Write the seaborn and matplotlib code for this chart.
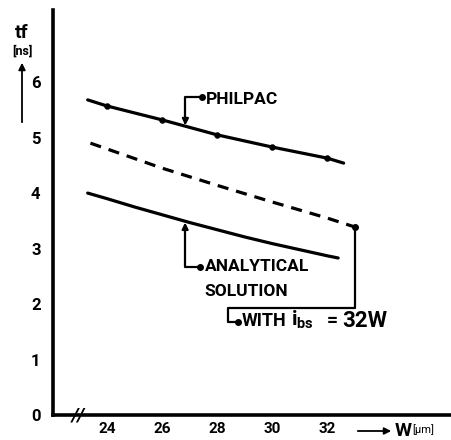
import matplotlib
matplotlib.use("Agg")
import matplotlib.pyplot as plt
import seaborn as sns
import pandas as pd

# ---- data ----
w_philpac = [23.3, 24, 26, 28, 30, 32, 32.6]
tf_philpac = [5.68, 5.57, 5.32, 5.05, 4.83, 4.63, 4.54]
w_marked = [24, 26, 28, 30, 32]
tf_marked = [5.57, 5.32, 5.05, 4.83, 4.63]

w_ibs = [23.4, 26, 28, 30, 32, 33.0]
tf_ibs = [4.90, 4.45, 4.14, 3.84, 3.55, 3.39]

w_analytic = [23.3, 24, 25, 26, 27, 28, 29, 30, 31, 32, 32.4]
tf_analytic = [4.00, 3.90, 3.75, 3.61, 3.47, 3.34, 3.21, 3.09, 2.98, 2.87, 2.83]

x_ticks = [24, 26, 28, 30, 32]
y_ticks = [0, 1, 2, 3, 4, 5, 6]

sns.set_style("white")
plt.rcParams['font.family'] = ['Roboto', 'DejaVu Sans']
plt.rcParams['font.weight'] = 'bold'
plt.rcParams['text.color'] = 'black'
plt.rcParams['xtick.color'] = 'black'
plt.rcParams['ytick.color'] = 'black'
plt.rcParams['mathtext.fontset'] = 'custom'
plt.rcParams['mathtext.it'] = 'Roboto:bold'
plt.rcParams['mathtext.rm'] = 'Roboto:bold'

fig = plt.figure(figsize=(4.51, 4.40), dpi=100)
ax = fig.add_axes([53/451, 25/440, 398/451, 405/440])

df_p = pd.DataFrame({"W": w_philpac, "tf": tf_philpac})
df_m = pd.DataFrame({"W": w_marked, "tf": tf_marked})
df_i = pd.DataFrame({"W": w_ibs, "tf": tf_ibs})
df_a = pd.DataFrame({"W": w_analytic, "tf": tf_analytic})

sns.lineplot(data=df_p, x="W", y="tf", ax=ax, color="black", lw=2.3, sort=True)
sns.scatterplot(data=df_m, x="W", y="tf", ax=ax, color="black", s=18, marker="o", edgecolor="black")
sns.lineplot(data=df_i, x="W", y="tf", ax=ax, color="black", lw=2.3, linestyle=(0, (3.5, 2.5)))
sns.lineplot(data=df_a, x="W", y="tf", ax=ax, color="black", lw=2.3)

ax.set_xlim(22.04, 36.5)
ax.set_ylim(0, 7.3)
ax.set_xticks(x_ticks)
ax.set_yticks(y_ticks)
ax.set_xticklabels([str(t) for t in x_ticks], fontsize=11, fontweight='bold')
ax.set_yticklabels([str(t) for t in y_ticks], fontsize=12, fontweight='bold')
ax.tick_params(axis='both', direction='inout', length=6, width=1.5, colors='black')
ax.tick_params(axis='x', pad=2)
ax.tick_params(axis='y', pad=6)
ax.set_xlabel("")
ax.set_ylabel("")
for s in ['top', 'right']:
    ax.spines[s].set_visible(False)
for s in ['left', 'bottom']:
    ax.spines[s].set_linewidth(2.6)
    ax.spines[s].set_color('black')

# axis break mark
ax.text(22.95, 0.0, "//", fontsize=13, fontstyle='italic', ha='center', va='center',
        family='DejaVu Sans', clip_on=False)

lead = dict(color='black', lw=1.6)
# PHILPAC label
ax.annotate("", xy=(26.85, 5.22), xytext=(27.45, 5.73),
            arrowprops=dict(arrowstyle='-|>', color='black', lw=1.6, shrinkA=0, shrinkB=0,
                            mutation_scale=9,
                            connectionstyle='angle,angleA=0,angleB=90,rad=0'))
ax.plot([27.45], [5.73], 'o', color='black', ms=4)
ax.text(27.6, 5.68, "PHILPAC", fontsize=12.5, va='center', ha='left')

# Analytical solution label
ax.annotate("", xy=(26.84, 3.47), xytext=(27.38, 2.67),
            arrowprops=dict(arrowstyle='-|>', color='black', lw=1.6, shrinkA=0, shrinkB=0,
                            mutation_scale=9,
                            connectionstyle='angle,angleA=0,angleB=90,rad=0'))
ax.plot([27.38], [2.67], 'o', color='black', ms=4)
ax.text(27.55, 2.67, "ANALYTICAL", fontsize=12.5, va='center', ha='left')
ax.text(27.55, 2.22, "SOLUTION", fontsize=12.5, va='center', ha='left')

# dashed-curve label
lead_x = [33.0, 33.0, 28.4, 28.4, 28.75]
lead_y = [3.39, 1.93, 1.93, 1.68, 1.68]
ax.plot(lead_x, lead_y, **lead)
ax.plot([33.0, 28.75], [3.39, 1.68], 'o', color='black', ms=4)
ax.text(28.9, 1.70, "WITH", fontsize=13, va='center', ha='left')
ax.text(30.7, 1.72, r"$i_{bs}$", fontsize=15, va='center', ha='left')
ax.text(32.0, 1.70, "=", fontsize=14, va='center', ha='left')
ax.text(32.55, 1.70, "32W", fontsize=16, va='center', ha='left')

# y label with arrow
fig.text(22/451, 1 - 33/440, "tf", fontsize=14, ha='center', va='center', fontweight='bold')
fig.text(22/451, 1 - 51/440, "[ns]", fontsize=9, ha='center', va='center', fontweight='bold')
fig.patches.append(matplotlib.patches.FancyArrowPatch(
    (22/451, 1 - 125/440), (22/451, 1 - 60/440), transform=fig.transFigure,
    arrowstyle='-|>', mutation_scale=10, color='black', lw=1.3))

# x label with arrow
fig.patches.append(matplotlib.patches.FancyArrowPatch(
    (355/451, 1 - 431/440), (394/451, 1 - 431/440), transform=fig.transFigure,
    arrowstyle='-|>', mutation_scale=10, color='black', lw=1.3))
fig.text(395/451, 1 - 431/440, "W", fontsize=14, ha='left', va='center', fontweight='bold')
fig.text(412/451, 1 - 430/440, "[μm]", fontsize=8, ha='left', va='center', fontweight='normal')

fig.savefig("out.png", dpi=100)
